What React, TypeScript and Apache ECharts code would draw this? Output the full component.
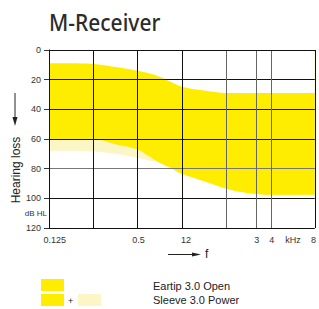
import React, { useEffect, useRef } from "react";
import * as echarts from "echarts";

const chartTitle = "M-Receiver";
// x positions in octaves above 0.125 kHz
const octaves = [0, 1, 1.5, 2, 2.25, 2.5, 2.75, 3, 3.5, 4, 4.5, 5, 6];
const eartipTop = [9, 9.5, 11.5, 14, 15.7, 18, 21.5, 24.7, 27.3, 29, 29, 29, 29];
const eartipBottom = [60, 60, 63.5, 67, 71.5, 76, 79.5, 83.5, 88.5, 93.5, 96.5, 97.5, 97.5];
const sleeveBottom = [68, 68.5, 70, 72.7, 74.5, 76, 79.5, 83.5, 88.5, 93.5, 96.5, 97.5, 97.5];

const gridOctaves = [0, 1, 2, 3, 4, 4.68, 5.02, 6];
const gridOctaveColors = ["#111", "#111", "#111", "#111", "#666", "#666", "#666", "#111"];
const freqLabels = ["0.125", "0.5", "12", "3", "4", "kHz", "8"];
const freqLabelOctaves = [0.13, 2.02, 3.09, 4.69, 5.03, 5.51, 5.97];
const dbColors = ["#111", "#111", "#111", "#111", "#777", "#111", "#111"];

const seriesNames = ["Eartip 3.0 Open", "Sleeve 3.0 Power"];
const YELLOW = "#FFED00";
const LIGHT = "#FCF5C5";

export default function App() {
  const ref = useRef<HTMLDivElement>(null);
  useEffect(() => {
    const chart = echarts.init(ref.current!, null, { renderer: "svg" });
    const pairs = (ys: number[]) => octaves.map((x, i) => [x, ys[i]]);
    const labelMap: Record<string, string> = {};
    freqLabelOctaves.forEach((v, i) => (labelMap[String(v)] = freqLabels[i]));
    const txt = "'Liberation Sans', Arial, sans-serif";
    const area = (name: string, ys: number[], color: string) => ({
      name,
      type: "line",
      data: pairs(ys),
      symbol: "none",
      smooth: 0.3,
      lineStyle: { width: 0, opacity: 0 },
      areaStyle: { color, opacity: 1, origin: "start" },
      silent: true,
    });
    chart.setOption({
      animation: false,
      grid: { left: 49, right: 2, top: 50, bottom: 81 },
      xAxis: {
        type: "value",
        min: 0,
        max: 6,
        z: 5,
        axisLine: { show: true, lineStyle: { color: "#111", width: 1 } },
        axisTick: { show: false, customValues: gridOctaves },
        splitLine: { show: true, lineStyle: { color: gridOctaveColors, width: 1 } },
        axisLabel: {
          customValues: freqLabelOctaves,
          formatter: (v: number) => labelMap[String(v)] ?? "",
          fontSize: 9,
          color: "#333",
          fontFamily: txt,
          margin: 7,
        },
      },
      yAxis: {
        type: "value",
        min: 0,
        max: 120,
        interval: 20,
        inverse: true,
        z: 5,
        axisLine: { show: true, lineStyle: { color: "#111", width: 1 } },
        axisTick: { show: true, length: 5, lineStyle: { color: "#333" } },
        splitLine: { show: true, lineStyle: { color: dbColors, width: 1 } },
        axisLabel: { fontSize: 9, color: "#333", fontFamily: txt, margin: 8 },
      },
      series: [
        area(seriesNames[1], sleeveBottom, LIGHT),
        area(seriesNames[0], eartipBottom, YELLOW),
        area("upper limit", eartipTop, "#ffffff"),
      ],
      graphic: [
        {
          type: "text",
          x: 49,
          y: 22,
          scaleY: 1.12,
          style: {
            text: chartTitle,
            fontSize: 21,
            fontWeight: 500,
            fill: "#2b2b2b",
            fontFamily: "'Noto Sans', sans-serif",
            verticalAlign: "middle",
          },
        },
        {
          type: "text",
          x: 16,
          y: 170,
          rotation: Math.PI / 2,
          style: { text: "Hearing loss", fontSize: 12, fill: "#222", fontFamily: txt, align: "center", verticalAlign: "middle" },
        },
        { type: "line", shape: { x1: 15, y1: 93, x2: 15, y2: 120 }, style: { stroke: "#222", lineWidth: 1 } },
        { type: "polygon", shape: { points: [[12.5, 117], [17.5, 117], [15, 126]] }, style: { fill: "#222" } },
        {
          type: "text",
          x: 47,
          y: 213,
          style: { text: "dB HL", fontSize: 8, fill: "#333", fontFamily: txt, align: "right", verticalAlign: "middle" },
        },
        { type: "line", shape: { x1: 168, y1: 254.5, x2: 194, y2: 254.5 }, style: { stroke: "#222", lineWidth: 1 } },
        { type: "polygon", shape: { points: [[192, 252.5], [192, 256.5], [201, 254.5]] }, style: { fill: "#222" } },
        {
          type: "text",
          x: 205,
          y: 254,
          style: { text: "f", fontSize: 12, fill: "#222", fontFamily: txt, verticalAlign: "middle" },
        },
        { type: "rect", shape: { x: 41, y: 279, width: 23, height: 12 }, style: { fill: YELLOW } },
        { type: "rect", shape: { x: 41, y: 294, width: 23, height: 12 }, style: { fill: YELLOW } },
        {
          type: "text",
          x: 70.5,
          y: 301,
          style: { text: "+", fontSize: 9, fill: "#222", fontFamily: txt, align: "center", verticalAlign: "middle" },
        },
        { type: "rect", shape: { x: 78, y: 294, width: 23, height: 12 }, style: { fill: LIGHT } },
        {
          type: "text",
          x: 153,
          y: 285.5,
          style: { text: seriesNames[0], fontSize: 11, fill: "#222", fontFamily: txt, verticalAlign: "middle" },
        },
        {
          type: "text",
          x: 153,
          y: 300,
          style: { text: seriesNames[1], fontSize: 11, fill: "#222", fontFamily: txt, verticalAlign: "middle" },
        },
      ],
    });
    return () => chart.dispose();
  }, []);
  return <div ref={ref} style={{ position: "fixed", left: 0, top: 0, width: 319, height: 309, background: "#fff" }} />;
}
